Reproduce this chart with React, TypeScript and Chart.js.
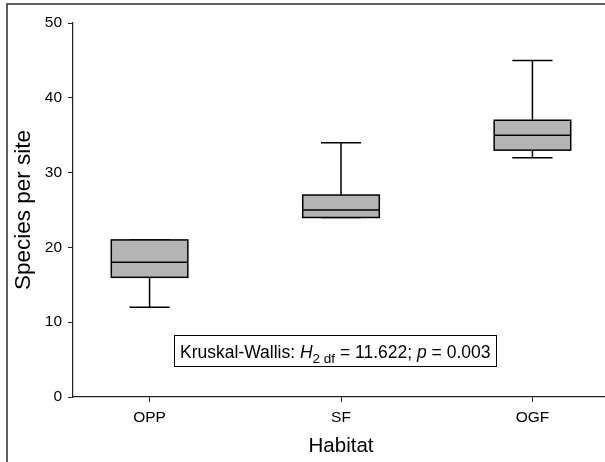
import React, { useEffect, useRef } from "react";
import { Chart, registerables } from "chart.js";

Chart.register(...registerables);

const categories = ["OPP", "SF", "OGF"];
const whiskerLow = [12, 24, 32];
const q1 = [16, 24, 33];
const median = [18, 25, 35];
const q3 = [21, 27, 37];
const whiskerHigh = [21, 34, 45];
const yTicks = [0, 10, 20, 30, 40, 50];

const FONT = "Arial, 'Liberation Sans', Helvetica, sans-serif";
const AXIS = "#222";

const boxPlugin = {
  id: "boxplot",
  beforeDraw(chart: any) {
    const ctx = chart.ctx;
    ctx.save();
    ctx.strokeStyle = "#3a3a3a";
    ctx.lineWidth = 1.6;
    ctx.strokeRect(7, 4, 700, 700);
    ctx.restore();
  },
  afterDatasetsDraw(chart: any) {
    const ctx = chart.ctx;
    const xs = chart.scales.x;
    const ys = chart.scales.y;
    ctx.save();
    ctx.lineWidth = 1.5;
    ctx.strokeStyle = "#000";
    categories.forEach((_, i) => {
      const c = i + 1;
      const xl = xs.getPixelForValue(c - 0.2);
      const xr = xs.getPixelForValue(c + 0.2);
      const cl = xs.getPixelForValue(c - 0.105);
      const cr = xs.getPixelForValue(c + 0.105);
      const xc = xs.getPixelForValue(c);
      const yq1 = ys.getPixelForValue(q1[i]);
      const yq3 = ys.getPixelForValue(q3[i]);
      const ym = ys.getPixelForValue(median[i]);
      const ylo = ys.getPixelForValue(whiskerLow[i]);
      const yhi = ys.getPixelForValue(whiskerHigh[i]);
      ctx.beginPath();
      ctx.moveTo(xc, yq3);
      ctx.lineTo(xc, yhi);
      ctx.moveTo(cl, yhi);
      ctx.lineTo(cr, yhi);
      ctx.moveTo(xc, yq1);
      ctx.lineTo(xc, ylo);
      ctx.moveTo(cl, ylo);
      ctx.lineTo(cr, ylo);
      ctx.stroke();
      ctx.fillStyle = "#b4b4b4";
      ctx.fillRect(xl, yq3, xr - xl, yq1 - yq3);
      ctx.strokeRect(xl, yq3, xr - xl, yq1 - yq3);
      ctx.beginPath();
      ctx.moveTo(xl, ym);
      ctx.lineTo(xr, ym);
      ctx.stroke();
    });
    ctx.restore();
  },
  afterDraw(chart: any) {
    const ctx = chart.ctx;
    const xs = chart.scales.x;
    const ys = chart.scales.y;
    const cx = xs.getPixelForValue(1.97);
    const baseY = ys.getPixelForValue(5.28);
    const main = "17.5px " + FONT;
    const ital = "italic 17.5px " + FONT;
    const sub = "13.5px " + FONT;
    const parts = [
      { t: "Kruskal-Wallis: ", f: main, dy: 0 },
      { t: "H", f: ital, dy: 0 },
      { t: "2 df", f: sub, dy: 5 },
      { t: " = 11.622; ", f: main, dy: 0 },
      { t: "p", f: ital, dy: 0 },
      { t: " = 0.003", f: main, dy: 0 },
    ];
    ctx.save();
    let w = 0;
    parts.forEach((p) => {
      ctx.font = p.f;
      w += ctx.measureText(p.t).width;
    });
    const x0 = cx - w / 2;
    ctx.fillStyle = "#fff";
    ctx.fillRect(x0 - 6, baseY - 22.5, w + 12, 31.5);
    ctx.strokeStyle = "#000";
    ctx.lineWidth = 1;
    ctx.strokeRect(Math.round(x0 - 6) + 0.5, Math.round(baseY - 22.5) + 0.5, Math.round(w + 12), 31);
    ctx.fillStyle = "#000";
    ctx.textBaseline = "alphabetic";
    ctx.textAlign = "left";
    let x = x0;
    parts.forEach((p) => {
      ctx.font = p.f;
      ctx.fillText(p.t, x, baseY + p.dy);
      x += ctx.measureText(p.t).width;
    });
    ctx.restore();
  },
};

export default function App() {
  const ref = useRef<HTMLCanvasElement | null>(null);
  useEffect(() => {
    if (!ref.current) return;
    const W = 640;
    const H = 490;
    const chart = new Chart(ref.current, {
      type: "scatter",
      data: {
        datasets: [
          {
            label: "median",
            data: median.map((m, i) => ({ x: i + 1, y: m })),
            pointRadius: 0,
            showLine: false,
          },
        ],
      },
      options: {
        animation: false,
        responsive: false,
        maintainAspectRatio: false,
        layout: { padding: { left: 0, top: 23, right: W - 609, bottom: 0 } },
        plugins: { legend: { display: false }, tooltip: { enabled: false } },
        scales: {
          x: {
            type: "linear",
            min: 0.6,
            max: 3.4,
            afterBuildTicks: (s: any) => {
              s.ticks = categories.map((_, i) => ({ value: i + 1 }));
            },
            afterFit: (s: any) => {
              s.height = H - 397;
            },
            ticks: {
              autoSkip: false,
              maxRotation: 0,
              padding: 6,
              color: "#000",
              font: { size: 15.5, family: FONT },
              callback: (v: any) => categories[Math.round(v) - 1] ?? "",
            },
            grid: {
              drawOnChartArea: false,
              drawTicks: true,
              tickLength: 5,
              color: AXIS,
              lineWidth: 1,
            },
            border: { display: true, color: AXIS, width: 1.2 },
            title: {
              display: true,
              text: "Habitat",
              color: "#000",
              font: { size: 20.5, family: FONT },
              padding: { top: 0, bottom: 31 },
            },
          },
          y: {
            min: 0,
            max: 50,
            afterBuildTicks: (s: any) => {
              s.ticks = yTicks.map((v) => ({ value: v }));
            },
            afterFit: (s: any) => {
              s.width = 73;
            },
            ticks: {
              padding: 6,
              color: "#000",
              font: { size: 15.5, family: FONT },
            },
            grid: {
              drawOnChartArea: false,
              drawTicks: true,
              tickLength: 5,
              color: AXIS,
              lineWidth: 1,
            },
            border: { display: true, color: AXIS, width: 1.2 },
            title: {
              display: true,
              text: "Species per site",
              color: "#000",
              font: { size: 22.5, family: FONT },
              padding: { top: 10, bottom: 0 },
            },
          },
        },
      },
      plugins: [boxPlugin],
    } as any);
    return () => chart.destroy();
  }, []);
  return (
    <div
      style={{
        position: "fixed",
        left: 0,
        top: 0,
        width: 605,
        height: 462,
        overflow: "hidden",
        background: "#fff",
      }}
    >
      <canvas ref={ref} width={640} height={490} style={{ width: 640, height: 490, display: "block" }} />
    </div>
  );
}
